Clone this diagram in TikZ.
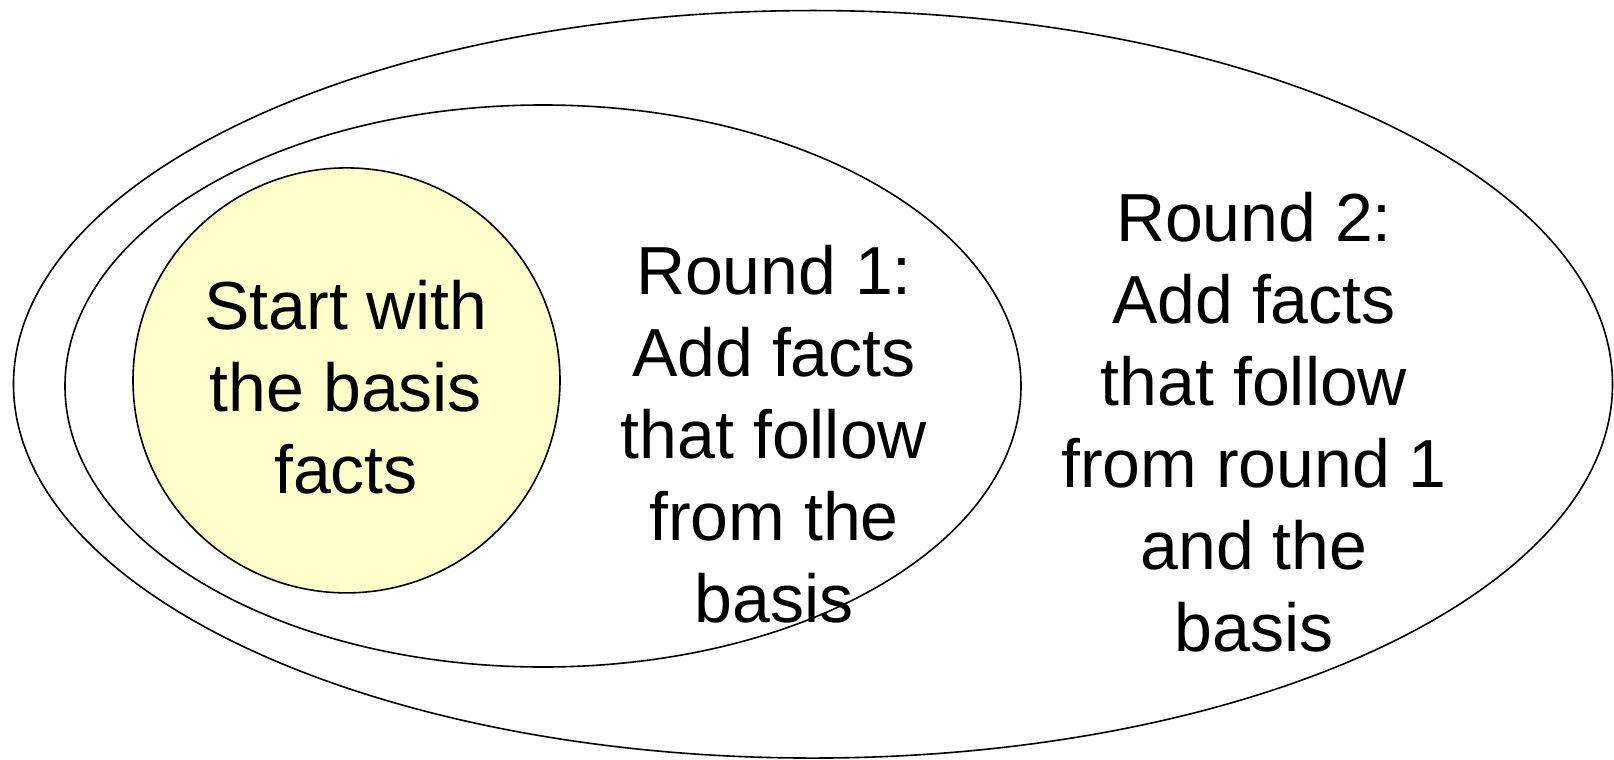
\documentclass[tikz,border=0pt]{standalone}
\usepackage{fontspec}
\setmainfont{Liberation Sans}
\usetikzlibrary{shapes.geometric}
\begin{document}
\begin{tikzpicture}[x=1bp,y=-1bp,
  region/.style={ellipse, draw=black, line width=1.6bp, inner sep=0pt, outer sep=0pt},
  label/.style={align=center, inner sep=0pt, font=\fontsize{68bp}{82bp}\selectfont}]
  \useasboundingbox (0,0) rectangle (1614,760);
  % nested regions: round 2, round 1, basis
  \node[region, minimum width=1599bp, minimum height=747.5bp] (round2) at (813,384.3) {};
  \node[region, minimum width=956bp, minimum height=562bp] (round1) at (543,386) {};
  \node[region, fill={rgb,255:red,255;green,255;blue,204}, minimum width=427bp, minimum height=425bp] (basis) at (346.5,380.4) {};
  % captions
  \node[label] (basistext) at (346,387.5) {Start with\\the basis\\facts};
  \node[label] (round1text) at (774,434.5) {Round 1:\\Add facts\\that follow\\from the\\basis};
  \node[label] (round2text) at (1254,422.5) {Round 2:\\Add facts\\that follow\\from round 1\\and the\\basis};
\end{tikzpicture}
\end{document}
